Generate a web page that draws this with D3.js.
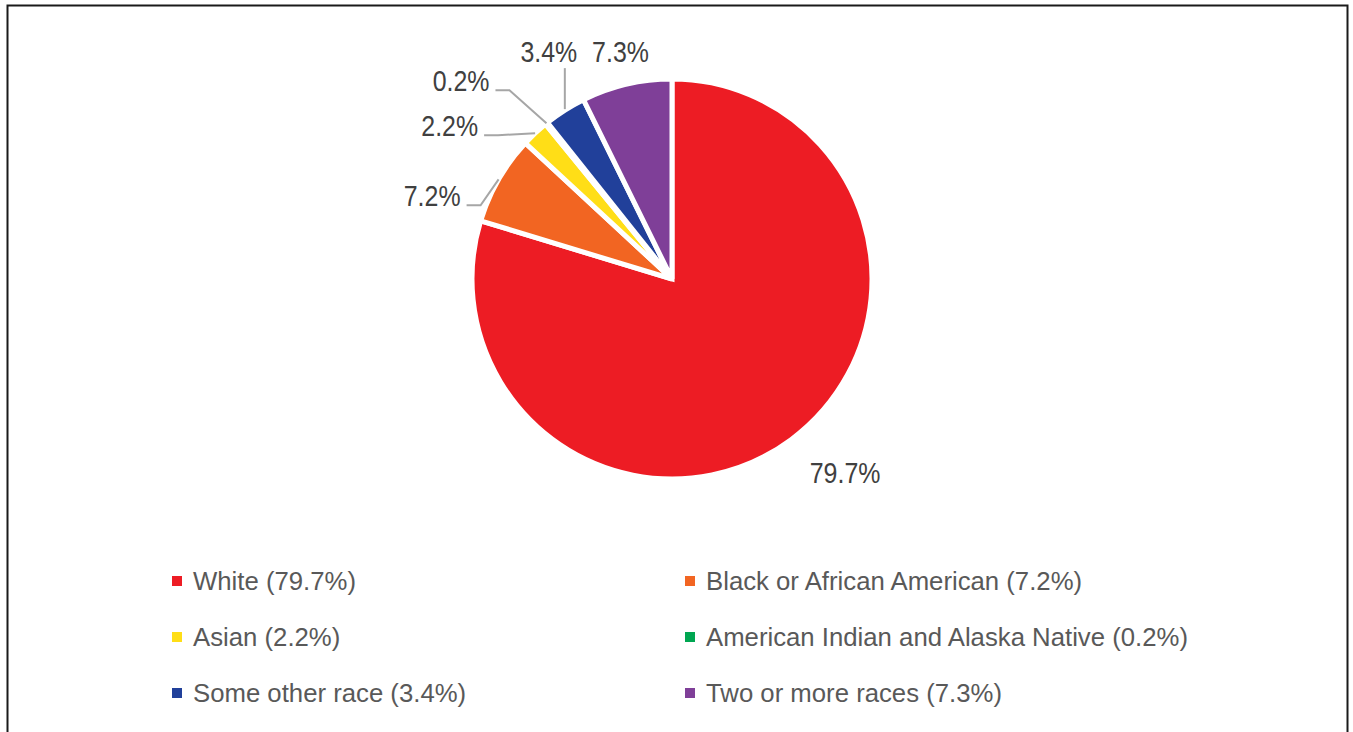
<!DOCTYPE html>
<html>
<head>
<meta charset="utf-8">
<script src="https://cdn.jsdelivr.net/npm/d3@7"></script>
<style>
  html, body { margin: 0; padding: 0; background: #fff; }
  svg { display: block; }
  text { font-family: "Liberation Sans", Arial, Helvetica, sans-serif; }
</style>
</head>
<body>
<svg id="chart" width="1353" height="732"></svg>
<script>
// Population share by race
const categories = [
  "White",
  "Black or African American",
  "Asian",
  "American Indian and Alaska Native",
  "Some other race",
  "Two or more races"
];
const shares = [79.7, 7.2, 2.2, 0.2, 3.4, 7.3];
const colors = ["#ED1C24", "#F26522", "#FFDE17", "#00A651", "#21409A", "#7F3F98"];

const W = 1353, H = 732;
const cx = 672, cy = 279, radius = 200;

const svg = d3.select("#chart");

// frame
svg.append("rect")
  .attr("x", 7.5).attr("y", 5.5)
  .attr("width", 1340).attr("height", 740)
  .attr("fill", "none")
  .attr("stroke", "#1a1a1a")
  .attr("stroke-width", 2);

const pie = d3.pie().sort(null).value(d => d)
  .startAngle(0).endAngle(2 * Math.PI);
const arcs = pie(shares);
const arc = d3.arc().innerRadius(0).outerRadius(radius);

const g = svg.append("g").attr("transform", `translate(${cx},${cy})`);

g.selectAll("path.slice")
  .data(arcs)
  .join("path")
  .attr("class", "slice")
  .attr("d", arc)
  .attr("fill", (d, i) => colors[i])
  .attr("stroke", "#fff")
  .attr("stroke-width", 5)
  .attr("stroke-linejoin", "miter");

// point on the rim at a slice's mid angle, in page coordinates
function rimPoint(d) {
  const a = (d.startAngle + d.endAngle) / 2;
  return [cx + radius * Math.sin(a), cy - radius * Math.cos(a)];
}

// label placement: offset of the text anchor from the rim point,
// text anchor, and leader style
const labelLayout = [
  { dx: 54,  dy: 43,  anchor: "middle", leader: "none" },
  { dx: -38, dy: 27,  anchor: "end",    leader: "elbow" },
  { dx: -57, dy: 3,   anchor: "end",    leader: "elbow" },
  { dx: -57, dy: -32, anchor: "end",    leader: "elbow" },
  { dx: -16, dy: -48, anchor: "middle", leader: "vertical" },
  { dx: -6,  dy: -22, anchor: "middle", leader: "none" }
];

const labelFont = 29, labelSqueeze = 0.86;
const fmt = v => v.toFixed(1) + "%";

const leaders = svg.append("g")
  .attr("fill", "none")
  .attr("stroke", "#A6A6A6")
  .attr("stroke-width", 2);

const labels = svg.append("g");

arcs.forEach((d, i) => {
  const [px, py] = rimPoint(d);
  const L = labelLayout[i];
  const tx = px + L.dx, ty = py + L.dy;

  labels.append("text")
    .attr("transform", `translate(${tx},${ty}) scale(${labelSqueeze},1)`)
    .attr("text-anchor", L.anchor)
    .attr("font-size", labelFont)
    .attr("fill", "#404040")
    .text(fmt(shares[i]));

  if (L.leader === "elbow") {
    const ly = ty - 1;
    leaders.append("polyline")
      .attr("points", [[px, py], [tx + 20, ly], [tx + 6, ly]].map(p => p.join(",")).join(" "));
  } else if (L.leader === "vertical") {
    leaders.append("polyline")
      .attr("points", [[px, py - 1], [px, ty + 6]].map(p => p.join(",")).join(" "));
  }
});

// legend, two columns filled row by row
const legendCols = [172, 685];
const legendRow0 = 581, legendStep = 56;
const legend = svg.append("g");
categories.forEach((name, i) => {
  const col = i % 2, row = Math.floor(i / 2);
  const x = legendCols[col], y = legendRow0 + row * legendStep;
  legend.append("rect")
    .attr("x", x).attr("y", y - 5)
    .attr("width", 10).attr("height", 10)
    .attr("fill", colors[i]);
  legend.append("text")
    .attr("transform", `translate(${x + 21},${y + 9}) scale(0.99,1)`)
    .attr("font-size", 26)
    .attr("fill", "#595959")
    .text(`${name} (${fmt(shares[i])})`);
});
</script>
</body>
</html>
